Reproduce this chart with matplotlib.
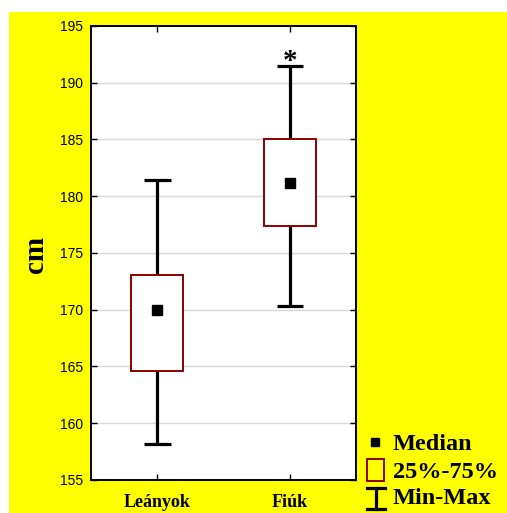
import matplotlib
matplotlib.use('Agg')
import matplotlib.pyplot as plt
from matplotlib.patches import Rectangle
from matplotlib.lines import Line2D
import numpy as np

groups = ['Leányok', 'Fiúk']
mins = [158.2, 170.3]
q1s = [164.6, 177.4]
medians = [170.0, 181.2]
q3s = [173.1, 185.0]
maxs = [181.4, 191.5]
yticks = [155, 160, 165, 170, 175, 180, 185, 190, 195]

W, H = 507, 513
fig = plt.figure(figsize=(W / 100, H / 100), dpi=100)
fig.patch.set_facecolor('white')

def fx(x):
    return x / W

def fy(y):
    return 1 - y / H

# yellow panel (white strip top and left)
fig.add_artist(Rectangle((fx(9), 0), 1 - fx(9), fy(12), transform=fig.transFigure,
                         facecolor='#ffff00', edgecolor='none', zorder=0))

ax = fig.add_axes([fx(91), fy(480), fx(356) - fx(91), fy(26) - fy(480)])
ax.set_facecolor('white')
pos = np.arange(len(groups))

ax.set_xlim(-0.5, 1.5)
ax.set_ylim(155, 195)
ax.set_yticks(yticks)
ax.set_xticks(pos)
ax.set_xticklabels(groups, fontfamily='Liberation Serif', fontweight='bold', fontsize=13)
for t in ax.get_yticklabels():
    t.set_fontfamily('Liberation Sans')
    t.set_fontsize(10)
ax.tick_params(axis='y', direction='in', length=4, width=1, right=True, pad=6)
ax.tick_params(axis='x', direction='in', length=4, width=1, top=True, pad=10)
for s in ax.spines.values():
    s.set_linewidth(1.4)
for v in yticks[1:-1]:
    ax.axhline(v, color='#d8d8d8', lw=1, zorder=1)

# whiskers and caps
ax.vlines(pos, mins, q1s, color='black', lw=2.3, zorder=2)
ax.vlines(pos, q3s, maxs, color='black', lw=2.3, zorder=2)
ax.hlines(mins, pos - 0.1, pos + 0.1, color='black', lw=2.3, zorder=2)
ax.hlines(maxs, pos - 0.1, pos + 0.1, color='black', lw=2.3, zorder=2)
# boxes
ax.bar(pos, np.array(q3s) - np.array(q1s), bottom=q1s, width=0.39,
       facecolor='white', edgecolor='#8b0000', linewidth=1.4, zorder=3)
ax.plot(pos, medians, 's', color='black', markersize=6.5, zorder=4)

ax.text(pos[1], maxs[1] - 0.85, '*', ha='center', va='bottom', fontsize=21,
        fontfamily='Liberation Serif', fontweight='bold')

fig.text(fx(35), fy(254), 'cm', rotation=90, ha='center', va='center',
         fontfamily='Liberation Serif', fontweight='bold', fontsize=21)

# legend
fig.add_artist(Line2D([fx(375)], [fy(442)], marker='s', color='black', markersize=6,
                      transform=fig.transFigure))
fig.add_artist(Rectangle((fx(367), fy(481)), fx(384) - fx(367), fy(459) - fy(481),
                         transform=fig.transFigure, facecolor='none', edgecolor='#8b0000', lw=1.4))
fig.add_artist(Line2D([fx(376), fx(376)], [fy(488), fy(509)], color='black', lw=2.3,
                      transform=fig.transFigure))
fig.add_artist(Line2D([fx(367), fx(385)], [fy(488), fy(488)], color='black', lw=2.3,
                      transform=fig.transFigure))
fig.add_artist(Line2D([fx(367), fx(385)], [fy(509), fy(509)], color='black', lw=2.3,
                      transform=fig.transFigure))
for label, y in zip(['Median', '25%-75%', 'Min-Max'], [444, 472, 499]):
    fig.text(fx(393), fy(y), label, ha='left', va='center', fontfamily='Liberation Serif',
             fontweight='bold', fontsize=17.5)

fig.savefig('out.png', dpi=100, facecolor=fig.get_facecolor())
